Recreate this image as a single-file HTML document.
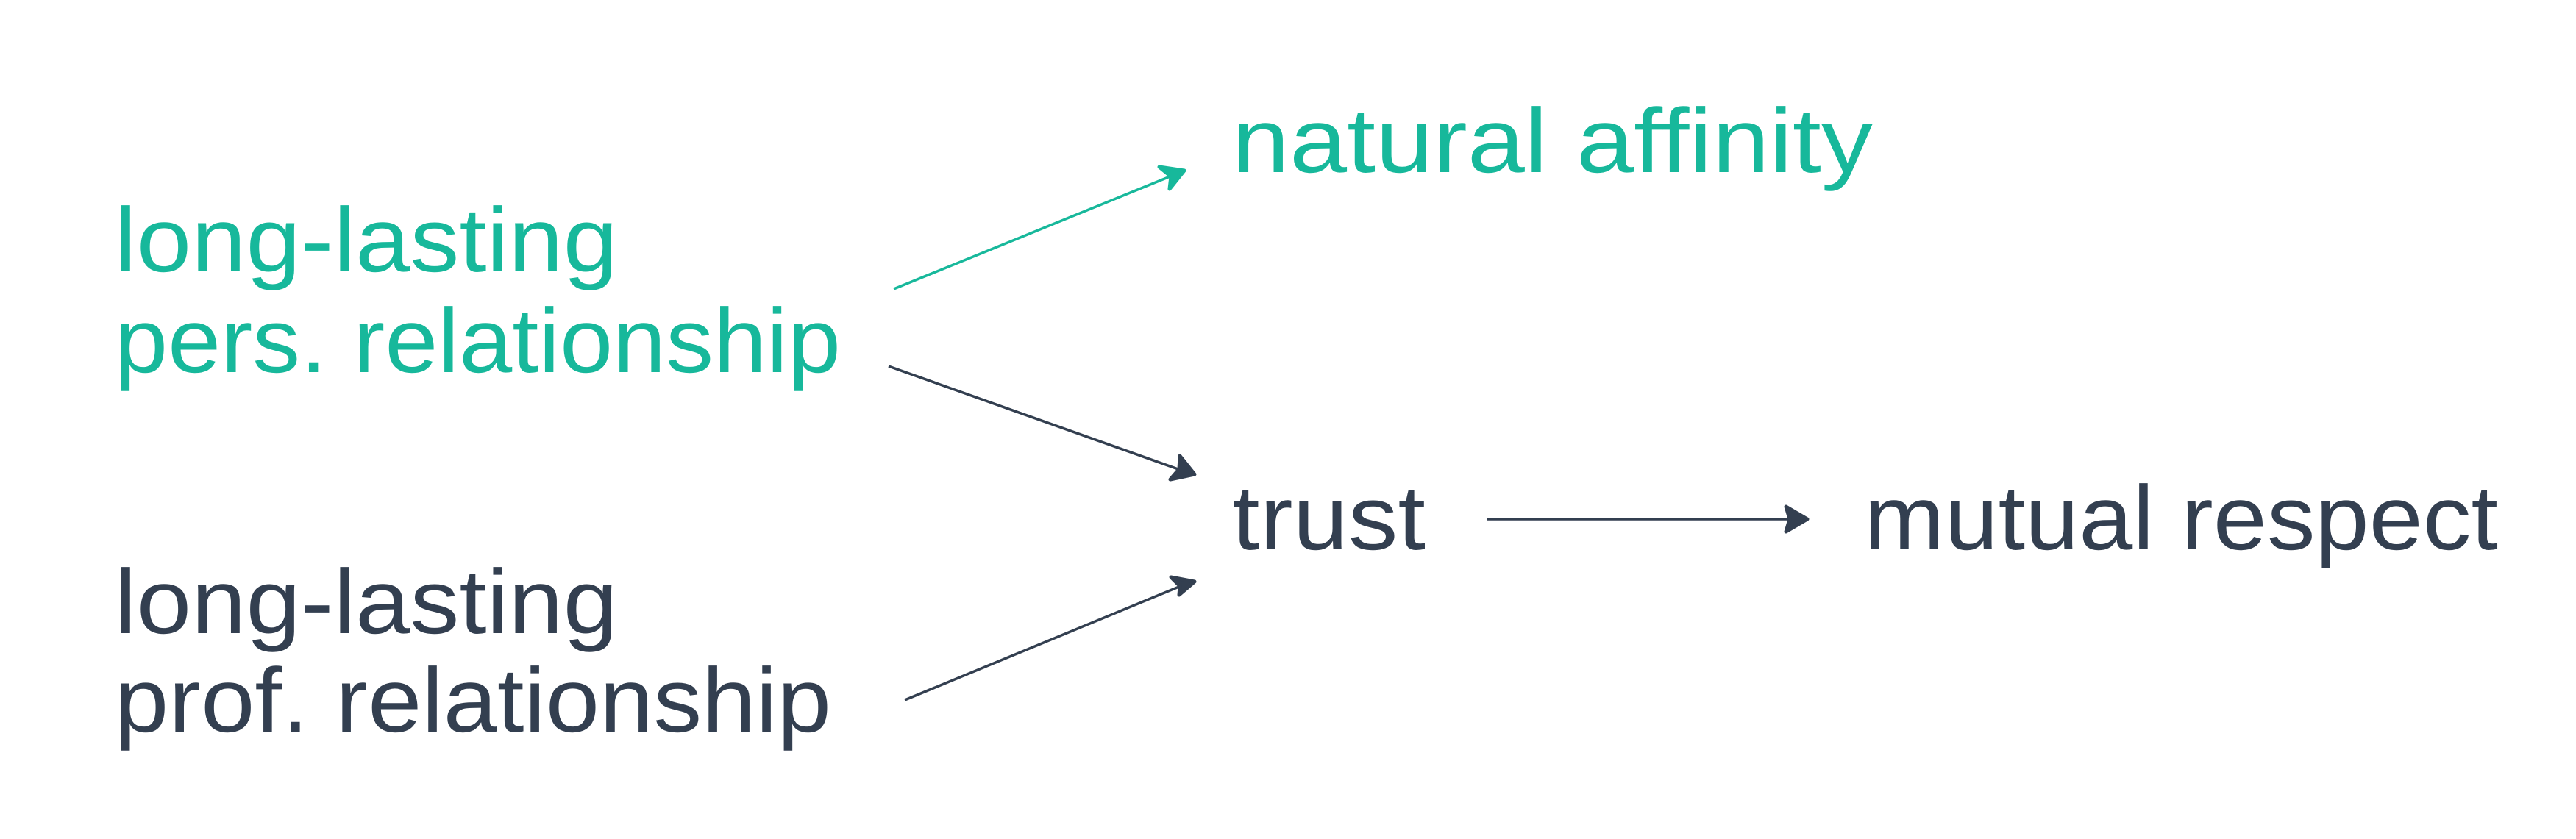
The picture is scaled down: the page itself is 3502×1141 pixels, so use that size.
<!DOCTYPE html>
<html><head><meta charset="utf-8"><style>
html,body{margin:0;padding:0;background:#fff;}
svg{display:block;}
text{font-family:"Liberation Sans",sans-serif;font-size:124px;}
</style></head><body>
<svg width="3502" height="1141" viewBox="0 0 3502 1141" xmlns="http://www.w3.org/2000/svg">
<g fill="#17b89b">
<text x="1675" y="234" textLength="871" lengthAdjust="spacingAndGlyphs">natural affinity</text>
<text x="156" y="369" textLength="684" lengthAdjust="spacingAndGlyphs">long-lasting</text>
<text x="156" y="506" textLength="987" lengthAdjust="spacingAndGlyphs">pers. relationship</text>
</g>
<g fill="#333f50">
<text x="1675" y="747" textLength="263" lengthAdjust="spacingAndGlyphs">trust</text>
<text x="2534" y="747" textLength="862" lengthAdjust="spacingAndGlyphs">mutual respect</text>
<text x="156" y="861" textLength="684" lengthAdjust="spacingAndGlyphs">long-lasting</text>
<text x="156" y="995" textLength="974" lengthAdjust="spacingAndGlyphs">prof. relationship</text>
</g>
<line x1="1215" y1="393" x2="1598" y2="237" stroke="#17b89b" stroke-width="3.5"/>
<polygon points="1610,232 1576,227 1592,240 1590,257" fill="#17b89b" stroke="#17b89b" stroke-width="5" stroke-linejoin="round"/>
<g stroke="#333f50" stroke-width="3.5" fill="#333f50" stroke-linejoin="round">
<line x1="1208" y1="498" x2="1610" y2="641"/>
<polygon points="1624,645 1604,620 1603,638 1591,652" stroke-width="5"/>
<line x1="1230" y1="952" x2="1610" y2="795"/>
<polygon points="1624,791 1592,785 1604,797 1603,809" stroke-width="5"/>
<line x1="2021" y1="706" x2="2440" y2="706"/>
<polygon points="2457,706 2428,689 2433,706 2428,723" stroke-width="5"/>
</g>
</svg>
</body></html>
